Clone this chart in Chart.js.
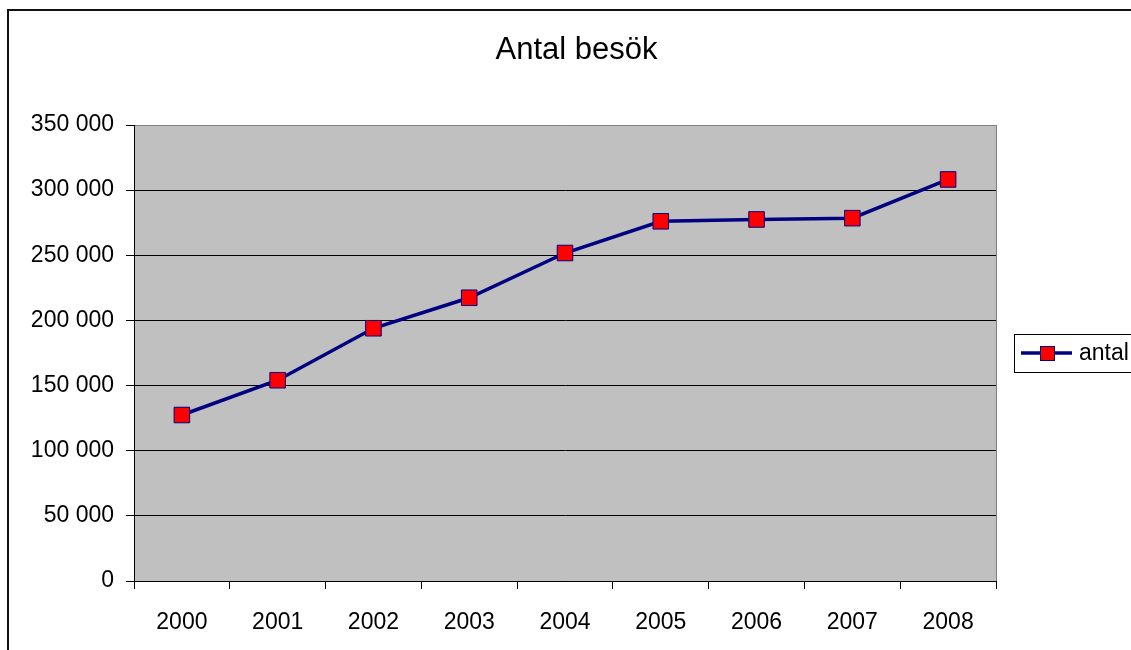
<!DOCTYPE html>
<html>
<head>
<meta charset="utf-8">
<title>Antal besök</title>
<script src="https://cdn.jsdelivr.net/npm/chart.js@4/dist/chart.umd.min.js"></script>
<style>
    html, body { margin: 0; padding: 0; background: #fff; overflow: hidden; }
    #chart { display: block; }
</style>
</head>
<body>
<canvas id="chart" width="1131" height="650"></canvas>
<script>
// data
var years = ["2000", "2001", "2002", "2003", "2004", "2005", "2006", "2007", "2008"];
var antal = [127400, 154100, 194000, 217400, 251750, 276100, 277500, 278500, 308200];
var chartTitle = "Antal besök";
var seriesName = "antal";

var FONT = '"Liberation Sans", Arial, sans-serif';

function formatTal(v) {
    return String(v).replace(/\B(?=(\d{3})+(?!\d))/g, ' ');
}

//bakgrund, ram, titel och legend
var excelLook = {
    id: 'excelLook',
    beforeDraw: function (chart) {
        var ctx = chart.ctx, a = chart.chartArea;
        ctx.save();
        ctx.fillStyle = '#fff';
        ctx.fillRect(0, 0, chart.width, chart.height);
        ctx.fillStyle = '#C0C0C0';
        ctx.fillRect(a.left, a.top, a.right - a.left, a.bottom - a.top);
        ctx.restore();
    },
    beforeDatasetsDraw: function (chart) {
        var ctx = chart.ctx, a = chart.chartArea;
        ctx.save();
        ctx.strokeStyle = '#808080';
        ctx.lineWidth = 1;
        ctx.beginPath();
        ctx.moveTo(Math.round(a.right) + 0.5, a.top);
        ctx.lineTo(Math.round(a.right) + 0.5, a.bottom);
        ctx.stroke();
        ctx.restore();
    },
    afterDraw: function (chart) {
        var ctx = chart.ctx;
        ctx.save();
        // yttre ram
        ctx.strokeStyle = '#111';
        ctx.lineWidth = 2;
        ctx.strokeRect(8, 10, 1300, 800);

        // titel
        ctx.fillStyle = '#000';
        ctx.font = '31px ' + FONT;
        ctx.textAlign = 'center';
        ctx.textBaseline = 'alphabetic';
        ctx.fillText(chartTitle, 576.5, 59);

        // legend
        ctx.lineWidth = 1;
        ctx.strokeStyle = '#000';
        ctx.strokeRect(1014.5, 334.5, 140, 38);
        ctx.strokeStyle = '#000080';
        ctx.lineWidth = 3.5;
        ctx.beginPath();
        ctx.moveTo(1021, 353);
        ctx.lineTo(1072, 353);
        ctx.stroke();
        ctx.fillStyle = '#FF0000';
        ctx.fillRect(1040, 346, 15, 15);
        ctx.lineWidth = 1;
        ctx.strokeRect(1040.5, 346.5, 14, 14);
        ctx.fillStyle = '#000';
        ctx.font = '23px ' + FONT;
        ctx.textAlign = 'left';
        ctx.textBaseline = 'middle';
        ctx.fillText(seriesName, 1079, 354);
        ctx.restore();
    }
};

new Chart(document.getElementById("chart").getContext("2d"), {
    type: 'line',
    data: {
        labels: years,
        datasets: [{
            label: seriesName,
            data: antal,
            borderColor: '#000080',
            borderWidth: 3.5,
            pointStyle: 'rect',
            pointRadius: 11,
            pointHoverRadius: 11,
            pointBackgroundColor: '#FF0000',
            pointBorderColor: '#000080',
            pointBorderWidth: 1,
            tension: 0,
            fill: false
        }]
    },
    options: {
        responsive: false,
        animation: false,
        events: [],
        layout: {
            padding: { left: 0, right: 135, top: 125, bottom: 0 }
        },
        plugins: {
            legend: { display: false },
            title: { display: false },
            tooltip: { enabled: false }
        },
        scales: {
            x: {
                offset: true,
                afterFit: function (scale) { scale.height = 69; },
                grid: {
                    offset: true,
                    drawOnChartArea: false,
                    drawTicks: true,
                    tickLength: 8,
                    tickColor: '#000'
                },
                border: { color: '#000', width: 1 },
                ticks: {
                    color: '#000',
                    font: { family: FONT, size: 23 },
                    padding: 20,
                    maxRotation: 0
                }
            },
            y: {
                min: 0,
                max: 350000,
                afterFit: function (scale) { scale.width = 134; },
                grid: {
                    color: function (c) { return c.tick && c.tick.value === 350000 ? '#808080' : '#000'; },
                    lineWidth: 1,
                    tickLength: 8,
                    tickColor: '#000'
                },
                border: { color: '#000', width: 1 },
                ticks: {
                    stepSize: 50000,
                    color: '#000',
                    font: { family: FONT, size: 23 },
                    padding: 12,
                    callback: function (v) { return formatTal(v); }
                }
            }
        }
    },
    plugins: [excelLook]
});
</script>
</body>
</html>
